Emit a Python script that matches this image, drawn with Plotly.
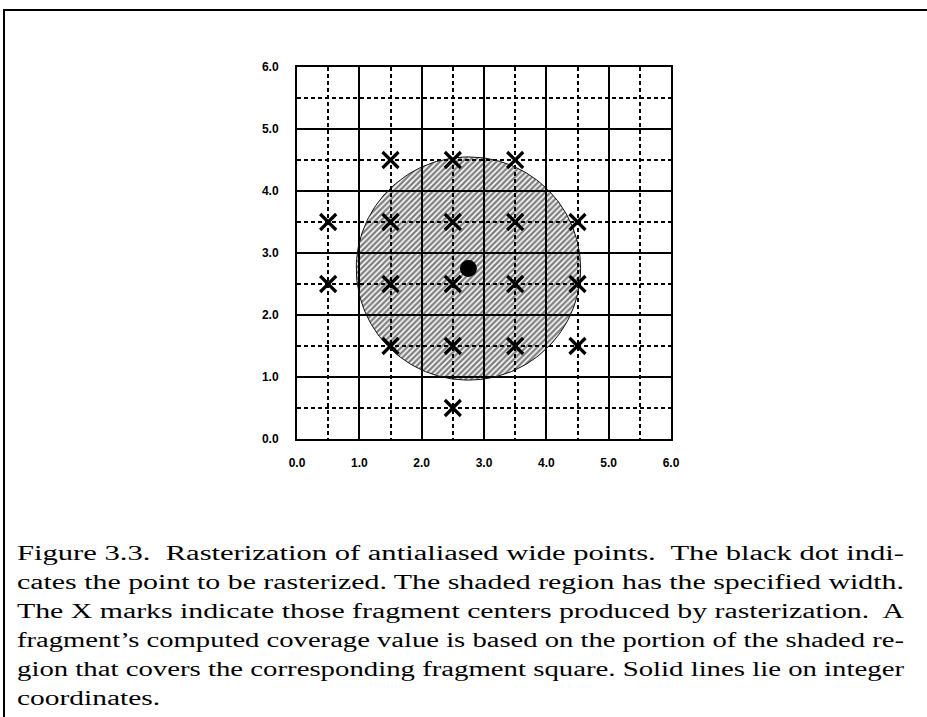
import numpy as np
import plotly.graph_objects as go

# ---- data ----
axis_ticks = [0, 1, 2, 3, 4, 5, 6]
half_ticks = [0.5, 1.5, 2.5, 3.5, 4.5, 5.5]
tick_labels = ["0.0", "1.0", "2.0", "3.0", "4.0", "5.0", "6.0"]

frag_x = [1.5, 2.5, 3.5,
          0.5, 1.5, 2.5, 3.5, 4.5,
          0.5, 1.5, 2.5, 3.5, 4.5,
          1.5, 2.5, 3.5, 4.5,
          2.5]
frag_y = [4.5, 4.5, 4.5,
          3.5, 3.5, 3.5, 3.5, 3.5,
          2.5, 2.5, 2.5, 2.5, 2.5,
          1.5, 1.5, 1.5, 1.5,
          0.5]

point_x = [2.75]
point_y = [2.75]
point_radius = 1.8

caption_lines = [
    "Figure 3.3.  Rasterization of antialiased wide points.  The black dot indi-",
    "cates the point to be rasterized. The shaded region has the specified width.",
    "The X marks indicate those fragment centers produced by rasterization.  A",
    "fragment\u2019s computed coverage value is based on the portion of the shaded re-",
    "gion that covers the corresponding fragment square. Solid lines lie on integer",
    "coordinates.",
]
caption_widths = [887, 887, 887, 887, 887, 143]

W, H = 927, 717

theta = np.linspace(0, 2 * np.pi, 241)
circ_x = point_x[0] + point_radius * np.cos(theta)
circ_y = point_y[0] + point_radius * np.sin(theta)

fig = go.Figure()
fig.add_trace(go.Scatter(
    x=circ_x, y=circ_y, mode="lines", fill="toself",
    line=dict(color="#111111", width=1),
    fillcolor="rgba(0,0,0,0)",
    fillpattern=dict(shape="/", size=4, solidity=0.6,
                     fgcolor="#000000", bgcolor="rgba(255,255,255,0)"),
    hoverinfo="skip", showlegend=False,
))
fig.add_trace(go.Scatter(
    x=frag_x, y=frag_y, mode="markers",
    marker=dict(symbol="x-thin", size=16, line=dict(color="black", width=3.2)),
    showlegend=False,
))
fig.add_trace(go.Scatter(
    x=point_x, y=point_y, mode="markers",
    marker=dict(symbol="circle", size=17, color="black"),
    showlegend=False,
))

axis_common = dict(
    range=[0, 6], tickmode="array", tickvals=axis_ticks, ticktext=tick_labels,
    showgrid=True, gridcolor="black", gridwidth=2, automargin=False,
    zeroline=False, showline=True, linecolor="black", linewidth=2, mirror=True,
    ticks="", tickfont=dict(family="Liberation Sans, Arial", size=12, color="black", weight="bold"),
    minor=dict(tickmode="array", tickvals=half_ticks, showgrid=True,
               gridcolor="black", gridwidth=1.8, griddash="4px,3px"),
    fixedrange=True,
)

fig.update_layout(
    width=W, height=H,
    margin=dict(l=0, r=0, t=0, b=0, pad=0),
    paper_bgcolor="white", plot_bgcolor="white",
    xaxis=dict(domain=[297 / W, 671 / W], ticklabelstandoff=12, **axis_common),
    yaxis=dict(domain=[1 - 439 / H, 1 - 67 / H], ticklabelstandoff=14, **axis_common),
)

# frame around the figure
fig.add_shape(type="path", xref="paper", yref="paper",
              path=f"M {4/W},0 L {4/W},{1-10/H} L 1,{1-10/H}",
              line=dict(color="black", width=2))

line_y0 = 553
for i, txt in enumerate(caption_lines):
    fig.add_annotation(
        x=15 / W, y=1 - (line_y0 + 29 * i) / H, xref="paper", yref="paper",
        text=txt, showarrow=False, xanchor="left", yanchor="middle", align="left",
        font=dict(family="Liberation Serif", size=20, color="black"),
    )

post = """
document.body.style.margin='0';
var gd=document.getElementById('{plot_id}');
var lens=%s;
var t=gd.querySelectorAll('text.annotation-text');
t.forEach(function(e,i){ if(i<lens.length){ e.setAttribute('textLength',lens[i]); e.setAttribute('lengthAdjust','spacingAndGlyphs'); }});
""" % str(caption_widths)

fig.write_html("out.html", post_script=post, config={"displayModeBar": False})
